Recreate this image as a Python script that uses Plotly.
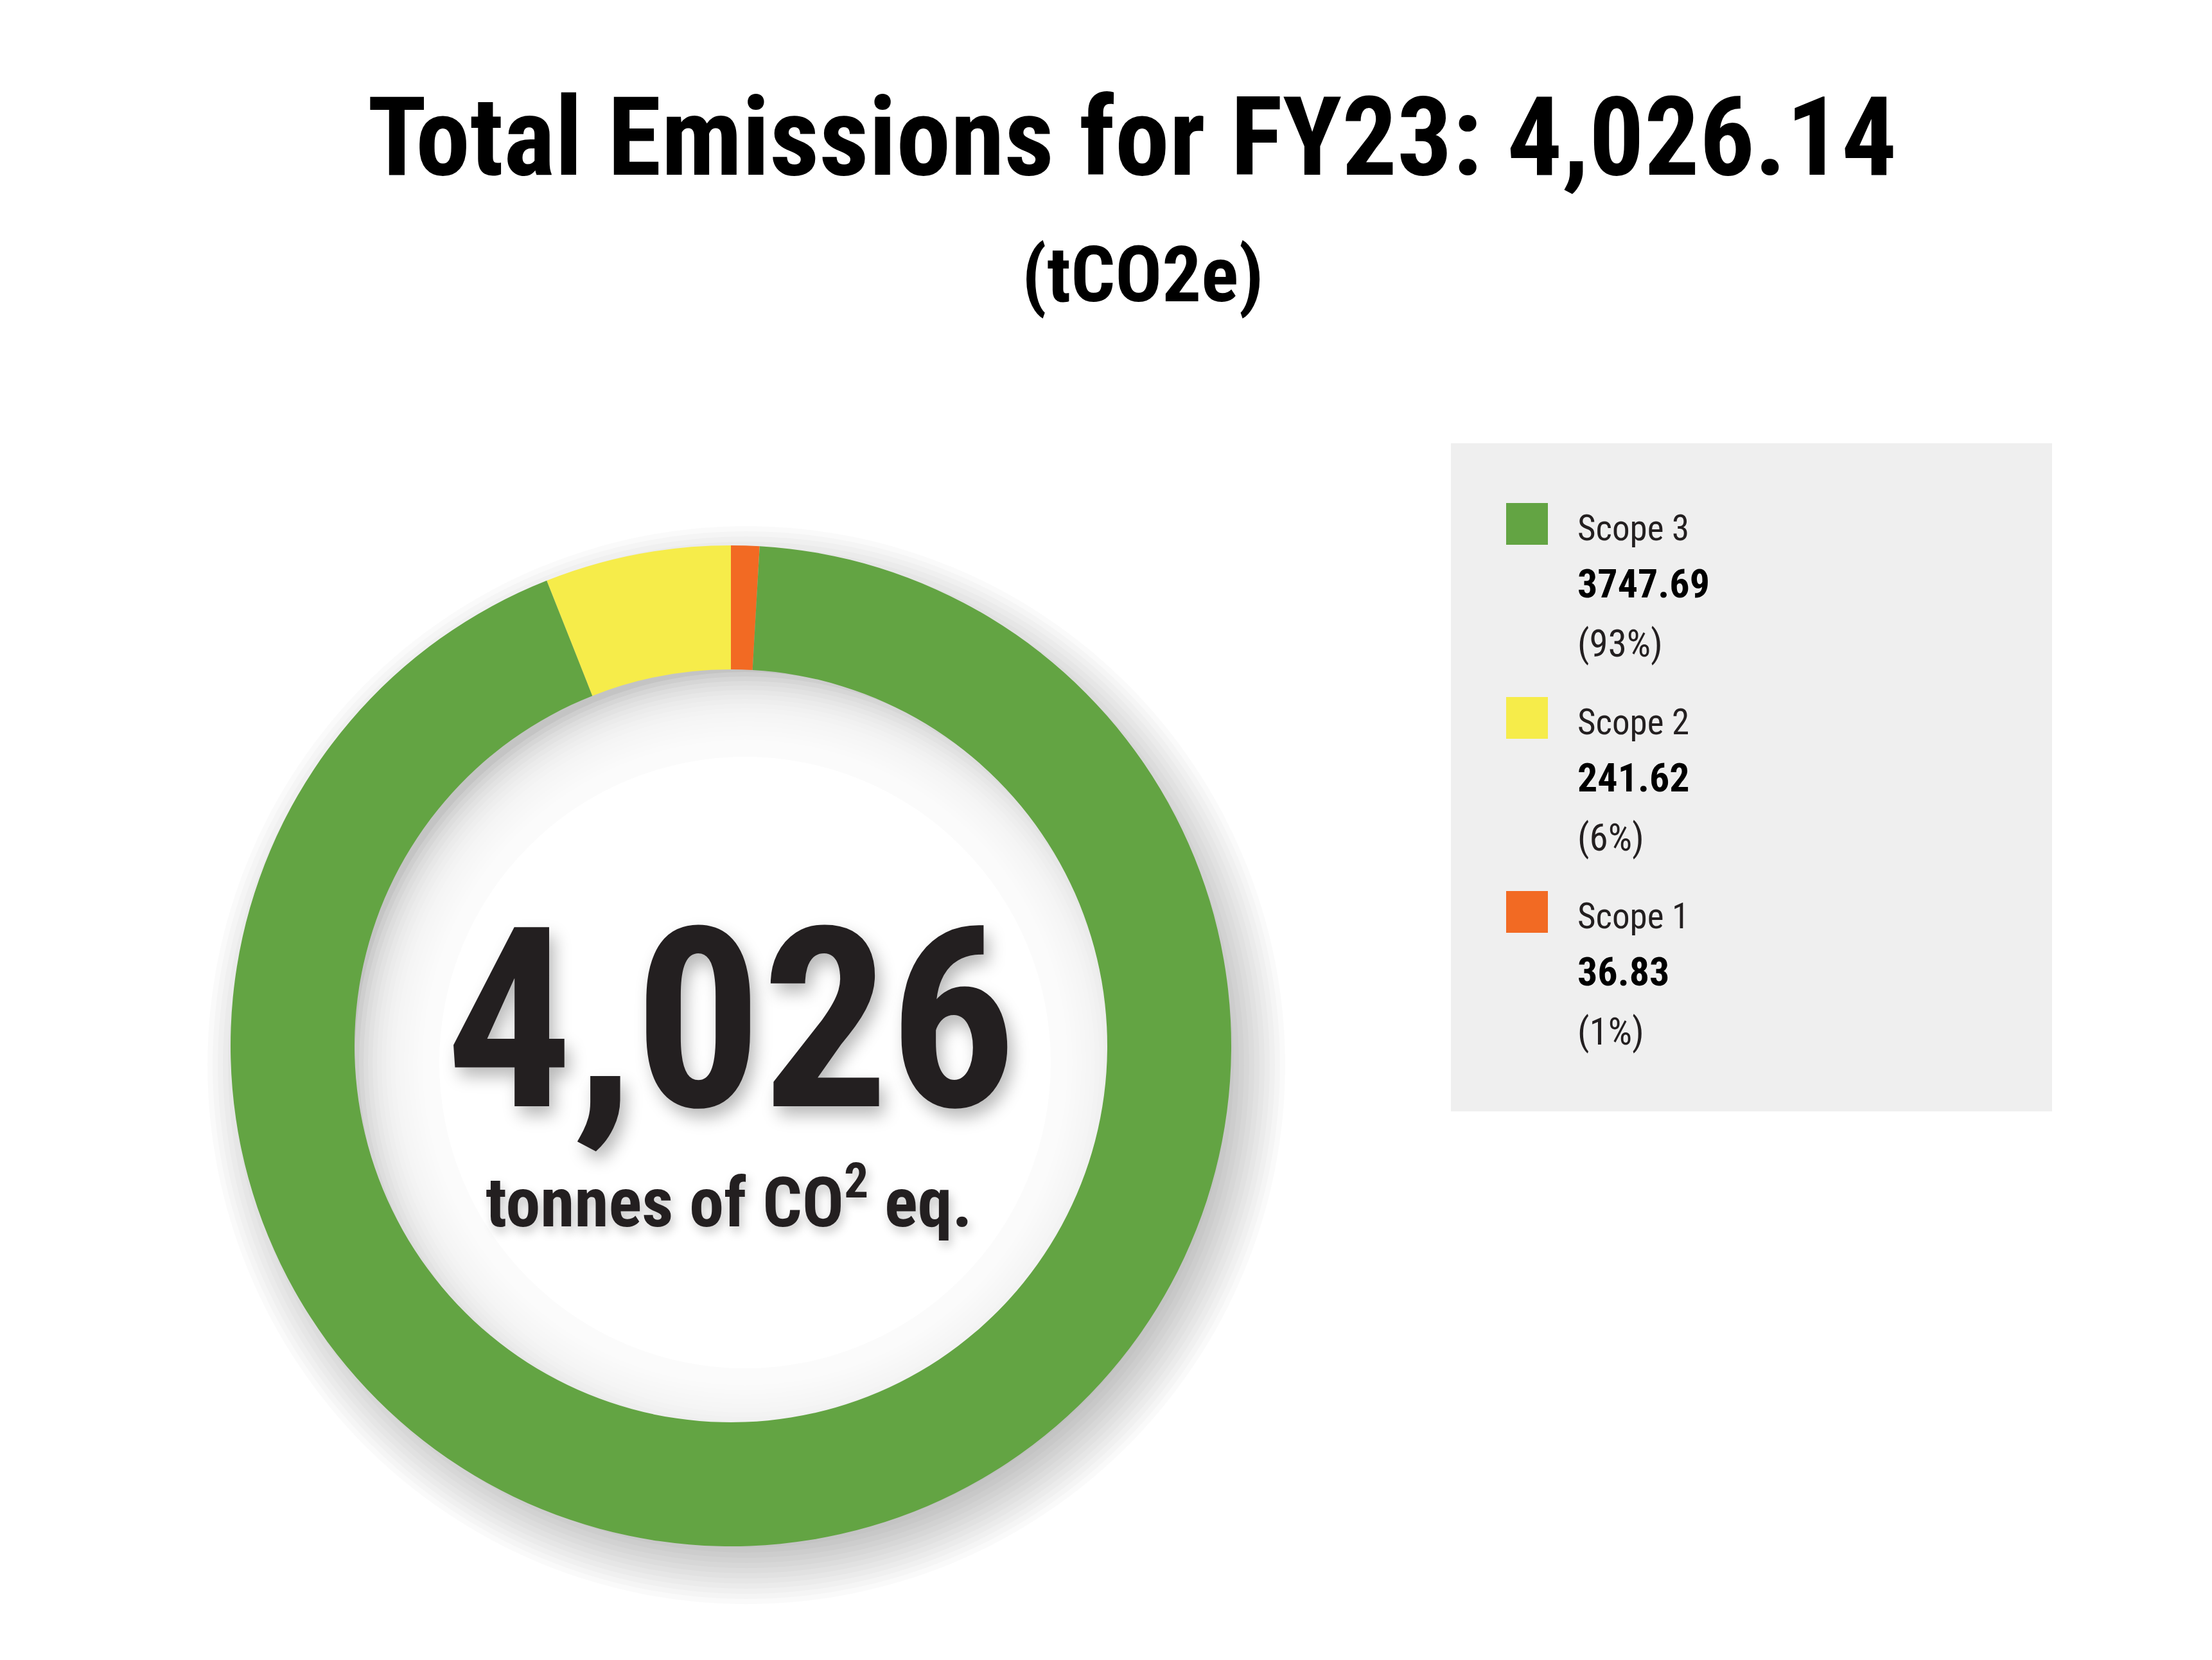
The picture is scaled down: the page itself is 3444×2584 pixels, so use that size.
import plotly.graph_objects as go

# data
scopes = ["Scope 1", "Scope 2", "Scope 3"]
emissions = [36.83, 241.62, 3747.69]
pct_labels = ["(1%)", "(6%)", "(93%)"]
fiscal_year = "FY23"
total = sum(emissions)

colors = ["#f26a23", "#f6ec4a", "#63a443"]

W, H = 3444, 2584
OFF = 8  # page body margin
FONT = "Roboto Condensed, Roboto, sans-serif"

# donut geometry in pixels
cx, cy = 1138, 1628
r_out, r_in = 779, 586


def px(x):
    return (x - OFF) / W


def py(y):
    return 1 - (y - OFF) / H


def circle(x, y, r, fill, opacity=1.0):
    return dict(type="circle", xref="paper", yref="paper",
                x0=px(x - r), x1=px(x + r), y0=py(y + r), y1=py(y - r),
                fillcolor=fill, opacity=opacity, line=dict(width=0), layer="below")


fig = go.Figure()
fig.add_trace(go.Pie(
    labels=scopes, values=emissions,
    marker=dict(colors=colors, line=dict(width=0)),
    sort=False, direction="counterclockwise", rotation=0,
    hole=r_in / r_out, textinfo="none", hoverinfo="label+value+percent",
    showlegend=False,
    domain=dict(x=[px(cx - r_out), px(cx + r_out)], y=[py(cy + r_out), py(cy - r_out)]),
))

shapes = []
# soft drop shadow around the ring (light from top-left)
for j in range(16):
    shapes.append(circle(cx + 24, cy + 30, r_out + 60 - 8 * j, "black", 0.02))
# shadow cast into the hole
shapes.append(circle(cx, cy, r_in + 20, "#c4c4c4"))
for k in range(18):
    shapes.append(circle(cx + 22, cy + 26, r_in + 22 - 7 * k, "white", 0.17))
shapes.append(circle(cx + 22, cy + 26, r_in - 110, "white"))

# legend box
shapes.append(dict(type="rect", xref="paper", yref="paper",
                   x0=px(2259), x1=px(3195), y0=py(1730), y1=py(690),
                   fillcolor="#efefef", line=dict(width=0), layer="below"))

annotations = [
    dict(text=f"<b>Total Emissions for {fiscal_year}: {total:,.2f}</b>", x=px(1762), y=py(214),
         font=dict(size=170, color="black", family=FONT)),
    dict(text="<b>(tCO2e)</b>", x=px(1779), y=py(428),
         font=dict(size=121, color="black", family=FONT)),
    dict(text=f"<b>{round(total):,}</b>", x=px(1138), y=py(1588),
         font=dict(size=392, color="#231f20", family=FONT,
                   shadow="8px 14px 26px rgba(0,0,0,0.28)")),
    dict(text="<b>tonnes of CO<sup>2</sup> eq.</b>", x=px(1135), y=py(1864),
         font=dict(size=108, color="#231f20", family=FONT,
                   shadow="4px 8px 16px rgba(0,0,0,0.22)")),
]

# custom legend, largest scope first
top = 783
step = 302
for i, idx in enumerate(reversed(range(len(scopes)))):
    y0 = top + i * step
    shapes.append(dict(type="rect", xref="paper", yref="paper",
                       x0=px(2345), x1=px(2410), y0=py(y0 + 65), y1=py(y0),
                       fillcolor=colors[idx], line=dict(width=0)))
    annotations.append(dict(text=scopes[idx], x=px(2454), y=py(y0 + 39), xanchor="left",
                            font=dict(size=55, color="#231f20", family=FONT)))
    annotations.append(dict(text=f"<b>{emissions[idx]:.2f}</b>", x=px(2454), y=py(y0 + 126),
                            xanchor="left", font=dict(size=62, color="black", family=FONT)))
    annotations.append(dict(text=pct_labels[idx], x=px(2454), y=py(y0 + 218), xanchor="left",
                            font=dict(size=59, color="#231f20", family=FONT)))

for a in annotations:
    a.update(xref="paper", yref="paper", showarrow=False)
    a.setdefault("xanchor", "center")
    a.setdefault("yanchor", "middle")

fig.update_layout(
    width=W, height=H,
    margin=dict(l=0, r=0, t=0, b=0),
    paper_bgcolor="white", plot_bgcolor="white",
    shapes=shapes, annotations=annotations,
)

fig.write_html("out.html")
